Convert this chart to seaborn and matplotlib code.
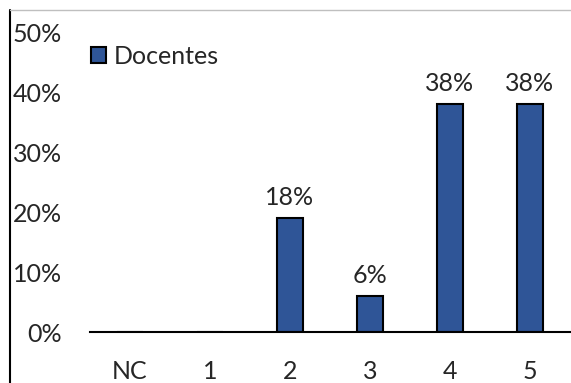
import matplotlib
matplotlib.use('Agg')
import matplotlib.pyplot as plt
import seaborn as sns
from matplotlib.lines import Line2D
from matplotlib.ticker import PercentFormatter

categorias = ['NC', '1', '2', '3', '4', '5']
docentes = [0.0, 0.0, 0.19, 0.06, 0.38, 0.38]
etiquetas = ['', '', '18%', '6%', '38%', '38%']

sns.set_style('white')
plt.rcParams['font.family'] = ['Lato', 'DejaVu Sans']
fs = 18

fig = plt.figure(figsize=(5.71, 3.83), dpi=100)
ax = fig.add_axes([90 / 571, 51 / 383, 480 / 571, 300 / 383])

sns.barplot(x=categorias, y=docentes, color='#2F5597', width=0.32,
            edgecolor='black', linewidth=1.5, label='Docentes', ax=ax,
            saturation=1)

for i, (v, t) in enumerate(zip(docentes, etiquetas)):
    if t:
        ax.text(i, v + 0.015, t, ha='center', va='bottom', fontsize=fs)

ax.set_ylim(0, 0.5)
ax.set_xlim(-0.5, 5.5)
ax.yaxis.set_major_formatter(PercentFormatter(1.0, decimals=0))
ax.set_yticks([0, 0.1, 0.2, 0.3, 0.4, 0.5])
ax.tick_params(axis='both', length=0, labelsize=fs)
ax.tick_params(axis='y', pad=20)
ax.tick_params(axis='x', pad=20)
for s in ['top', 'right', 'left']:
    ax.spines[s].set_visible(False)
ax.spines['bottom'].set_color('black')
ax.spines['bottom'].set_linewidth(1.5)
ax.set_xlabel('')
ax.set_ylabel('')

ax.legend(loc='upper left', frameon=False, fontsize=fs, handlelength=0.6,
          handleheight=0.6, handletextpad=0.3, borderaxespad=0.0,
          bbox_to_anchor=(-0.018, 0.99))

# marco recortado
fig.add_artist(Line2D([10 / 571, 10 / 571], [0, 373 / 383], color='black', lw=1.5))
fig.add_artist(Line2D([10 / 571, 1], [373 / 383, 373 / 383], color='#bfbfbf', lw=1))

fig.savefig('out.png', dpi=100)
